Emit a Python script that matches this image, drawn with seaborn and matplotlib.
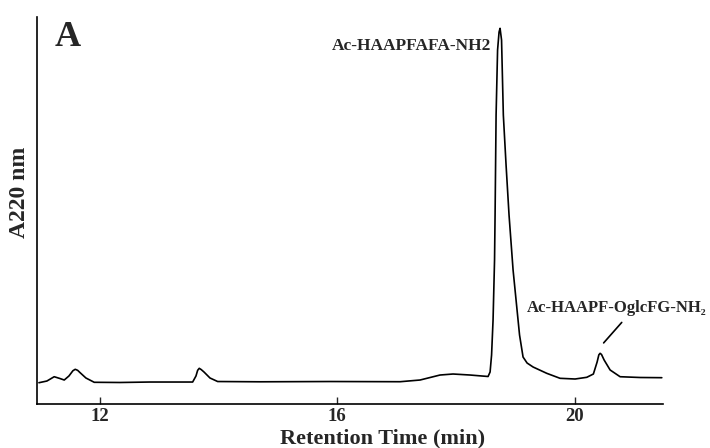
import pandas as pd
import seaborn as sns
from matplotlib import pyplot as plt

# chromatogram trace (time in min, absorbance in arbitrary units)
retention_time = [
    10.978, 11.112, 11.235, 11.331, 11.404, 11.483, 11.550, 11.589, 11.630, 11.668,
    11.769, 11.909, 12.342, 12.847, 13.566, 13.622, 13.650, 13.677, 13.710, 13.757,
    13.858, 13.987, 14.700, 15.879, 17.058, 17.395, 17.731, 17.950, 18.237, 18.434,
    18.540, 18.574, 18.599, 18.624, 18.649, 18.658, 18.675, 18.700, 18.725, 18.742,
    18.767, 18.797, 18.843, 18.893, 18.961, 19.028, 19.070, 19.129, 19.197, 19.298,
    19.528, 19.752, 20.005, 20.202, 20.313, 20.376, 20.405, 20.426, 20.450, 20.494,
    20.595, 20.763, 21.100, 21.465,
]
absorbance = [
    5.50, 5.94, 7.05, 6.59, 6.20, 7.24, 8.60, 8.97, 8.70, 8.14,
    6.72, 5.61, 5.56, 5.68, 5.68, 7.24, 8.70, 9.22, 8.90, 8.27,
    6.72, 5.81, 5.74, 5.81, 5.76, 6.20, 7.49, 7.75, 7.49, 7.24,
    7.11, 8.27, 12.66, 21.71, 37.21, 48.84, 74.68, 91.47, 96.12, 97.08,
    94.06, 74.68, 61.76, 48.84, 34.63, 24.29, 17.83, 12.14, 10.59, 9.56,
    7.93, 6.64, 6.46, 6.90, 7.75, 10.85, 12.70, 13.10, 12.80, 11.37,
    8.79, 7.05, 6.85, 6.80,
]
x_ticks = [12, 16, 20]

main_label = "Ac-HAAPFAFA-NH2"
main_label_pos = (17.255, 92.5)
minor_label = "Ac-HAAPF-OglcFG-NH\u2082"
minor_label_pos = (20.704, 24.8)
minor_peak_pos = (20.455, 15.25)

df = pd.DataFrame({"time": retention_time, "a220": absorbance})

sns.set_style("ticks")
plt.rcParams["font.family"] = ["Liberation Serif", "DejaVu Serif"]
plt.rcParams["font.weight"] = "bold"

fig = plt.figure(figsize=(7.1, 4.48), dpi=100)
ax = fig.add_axes([0.0525, 0.0982, 0.8817, 0.8638])

sns.lineplot(data=df, x="time", y="a220", color="black", linewidth=1.2,
             estimator=None, ax=ax)

ax.set_xlim(10.95, 21.49)
ax.set_ylim(0, 100)
ax.set_xticks(x_ticks)
ax.set_yticks([])
ax.tick_params(axis="x", direction="in", length=5, width=1, pad=3, labelsize=13.5)
for lab in ax.get_xticklabels():
    lab.set_fontweight("bold")
sns.despine(ax=ax)
for side in ["left", "bottom"]:
    ax.spines[side].set_linewidth(1.2)
    ax.spines[side].set_color("black")

ax.set_xlabel("Retention Time (min)", fontsize=16, fontweight="bold")
ax.xaxis.set_label_coords(0.551, -0.063)
ax.set_ylabel("A220 nm", fontsize=17, fontweight="bold")
ax.yaxis.set_label_coords(-0.012, 0.547)

ax.text(0.027, 0.925, "A", transform=ax.transAxes, fontsize=26,
        fontweight="bold", va="baseline", ha="left")
ax.text(*main_label_pos, main_label, fontsize=12.5, fontweight="bold",
        ha="center", va="center")
ax.annotate(minor_label, xy=minor_peak_pos, xytext=minor_label_pos,
            fontsize=12, fontweight="bold", ha="center", va="center",
            annotation_clip=False,
            arrowprops=dict(arrowstyle="-", color="black", lw=1.2,
                            relpos=(0.56, 0), shrinkA=3, shrinkB=2))

fig.savefig("out.png", dpi=100)
